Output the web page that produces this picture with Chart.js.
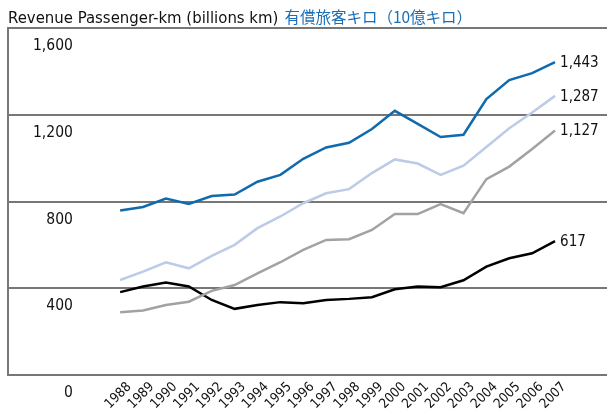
<!DOCTYPE html>
<html>
<head>
<meta charset="utf-8">
<script src="https://cdn.jsdelivr.net/npm/chart.js@4/dist/chart.umd.min.js"></script>
<style>
  html, body { margin: 0; padding: 0; background: #fff; }
  #wrap { position: relative; width: 607px; height: 410px; }
  #title {
    position: absolute; left: 8px; top: 5px; white-space: nowrap;
    font-family: 'Liberation Sans Narrow', 'DejaVu Sans Condensed', sans-serif;
    font-size: 16.6px; color: #111;
  }
  #title .jp {
    font-family: 'Noto Sans CJK JP', sans-serif; font-size: 15.5px; color: #1a6eb5; margin-left: 6px;
  }
  canvas { position: absolute; left: 0; top: 0; }
</style>
</head>
<body>
<div id="wrap">
  <canvas id="rpkChart" width="607" height="410"></canvas>
  <div id="title">Revenue Passenger-km (billions km)<span class="jp">有償旅客キロ（10億キロ）</span></div>
</div>
<script>
// 年
const years = [1988, 1989, 1990, 1991, 1992, 1993, 1994, 1995, 1996, 1997,
               1998, 1999, 2000, 2001, 2002, 2003, 2004, 2005, 2006, 2007];

// 各系列 (billions km)
const seriesBlue = [758, 775, 814, 789, 825, 832, 891, 923, 997, 1049,
                    1071, 1134, 1218, 1158, 1097, 1108, 1272, 1360, 1392, 1443];
const seriesLightBlue = [438, 477, 520, 492, 549, 600, 677, 731, 792, 838,
                         857, 931, 994, 975, 923, 965, 1051, 1138, 1210, 1287];
const seriesGray = [289, 297, 323, 338, 388, 415, 469, 520, 577, 623,
                    626, 669, 742, 742, 788, 746, 903, 961, 1042, 1127];
const seriesBlack = [382, 408, 426, 408, 346, 305, 323, 336, 331, 346,
                     351, 359, 395, 408, 405, 437, 500, 538, 561, 617];

const yTicks = [0, 400, 800, 1200, 1600];

const narrow = "'Liberation Sans Narrow', 'DejaVu Sans Condensed', sans-serif";

const toPoints = arr => arr.map((v, i) => ({ x: years[i], y: v }));

// 右端の数値ラベル
const endLabels = {
    id: 'endLabels',
    afterDatasetsDraw(chart) {
        const ctx = chart.ctx;
        ctx.save();
        ctx.font = '15px ' + narrow;
        ctx.fillStyle = '#111';
        ctx.textAlign = 'left';
        ctx.textBaseline = 'middle';
        chart.data.datasets.forEach((ds, i) => {
            const meta = chart.getDatasetMeta(i);
            const pt = meta.data[meta.data.length - 1];
            const v = ds.data[ds.data.length - 1].y;
            ctx.fillText(v.toLocaleString('en-US'), pt.x + 5, pt.y + 1);
        });
        ctx.restore();
    }
};

const mkSet = (data, color) => ({
    data: toPoints(data),
    borderColor: color,
    borderWidth: 2.5,
    pointRadius: 0,
    tension: 0,
    fill: false
});

new Chart(document.getElementById('rpkChart').getContext('2d'), {
    type: 'line',
    data: {
        datasets: [
            mkSet(seriesBlue, '#0f6aae'),
            mkSet(seriesLightBlue, '#bccbe8'),
            mkSet(seriesGray, '#a2a2a2'),
            mkSet(seriesBlack, '#000000')
        ]
    },
    options: {
        responsive: false,
        animation: false,
        layout: { padding: { top: 28, left: 0, right: 0, bottom: 0 } },
        plugins: { legend: { display: false }, tooltip: { enabled: false } },
        scales: {
            x: {
                type: 'linear',
                min: 1983.1,
                max: 2009.27,
                afterBuildTicks: s => { s.ticks = years.map(y => ({ value: y })); },
                afterFit: s => { s.height = 35; },
                grid: { display: false, drawTicks: false },
                border: { display: false },
                ticks: {
                    autoSkip: false,
                    minRotation: 45,
                    maxRotation: 45,
                    padding: 4,
                    labelOffset: 9,
                    color: '#111',
                    font: { family: narrow, size: 13.5 },
                    callback: v => String(v)
                }
            },
            y: {
                min: 0,
                max: 1600,
                afterBuildTicks: s => { s.ticks = yTicks.map(v => ({ value: v })); },
                afterFit: s => { s.width = 8; s.paddingTop = 0; s.paddingBottom = 0; },
                grid: { color: '#777', lineWidth: 2, drawTicks: false },
                border: { display: true, color: '#777', width: 2 },
                ticks: {
                    mirror: true,
                    crossAlign: 'far',
                    padding: 25,
                    labelOffset: 18,
                    color: '#111',
                    font: { family: narrow, size: 15.5 },
                    callback: v => v.toLocaleString('en-US')
                }
            }
        }
    },
    plugins: [endLabels]
});
</script>
</body>
</html>
